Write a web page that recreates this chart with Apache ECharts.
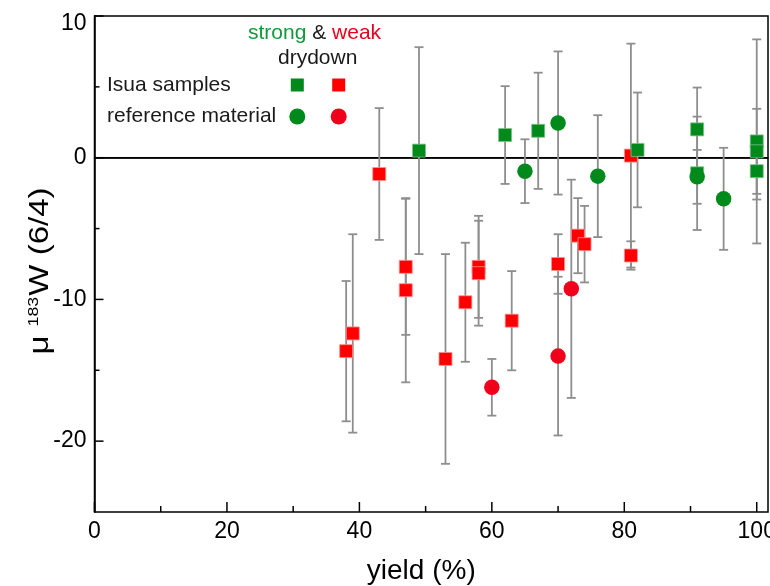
<!DOCTYPE html>
<html>
<head>
<meta charset="utf-8">
<script src="https://cdn.jsdelivr.net/npm/echarts@6/dist/echarts.min.js"></script>
<style>
html,body{margin:0;padding:0;background:#fff;}
#chart{width:770px;height:586px;}
</style>
</head>
<body>
<div id="chart"></div>
<script>
// ---- data (yield %, mu183W, error) ----
const isuaWeakX   = [38, 39, 43, 47, 47, 53, 56, 58, 58, 63, 70, 73, 74, 81, 81];
const isuaWeakY   = [-13.65, -12.4, -1.15, -7.7, -9.35, -14.2, -10.2, -7.7, -8.15, -11.5, -7.5, -5.5, -6.1, 0.15, -6.9];
const isuaWeakErr = [4.95, 7.0, 4.65, 4.8, 6.5, 7.4, 4.2, 3.6, 3.7, 3.5, 2.1, 2.65, 2.7, 7.9, 1.0];

const isuaStrongX   = [49, 62, 67, 82, 91, 91, 100, 100, 100];
const isuaStrongY   = [0.5, 1.6, 1.9, 0.55, 2.0, -1.1, 1.15, 0.45, -0.95];
const isuaStrongErr = [7.3, 3.45, 4.1, 4.05, 2.95, 4.0, 7.2, 3.0, 2.0];

const refWeakX   = [60, 70, 72];
const refWeakY   = [-16.2, -14.0, -9.25];
const refWeakErr = [2.0, 5.6, 7.7];

const refStrongX   = [65, 70, 76, 91, 95];
const refStrongY   = [-0.95, 2.45, -1.3, -1.35, -2.9];
const refStrongErr = [2.25, 5.05, 4.3, 1.9, 3.6];

const xMajorTicks = [0, 20, 40, 60, 80, 100];
const xMinorTicks = [10, 30, 50, 70, 90];
const yMajorTicks = [-20, -10, 0, 10];
const yMinorTicks = [-15, -5, 5];

const X_MIN = 0, X_MAX = 101.7, Y_MIN = -25, Y_MAX = 10;

const GREEN = '#008a1c';
const RED = '#ff0000';
const RED_C = '#f0001a';
const FONT = '"Liberation Sans", Arial, sans-serif';

function zip(xs, ys, es) { return xs.map((x, i) => [x, ys[i], es[i]]); }
const allErr = [].concat(
  zip(isuaWeakX, isuaWeakY, isuaWeakErr),
  zip(isuaStrongX, isuaStrongY, isuaStrongErr),
  zip(refWeakX, refWeakY, refWeakErr),
  zip(refStrongX, refStrongY, refStrongErr)
);

const chart = echarts.init(document.getElementById('chart'), null, {renderer: 'canvas'});

function errRender(params, api) {
  const x = api.value(0), y = api.value(1), e = api.value(2);
  const t = api.coord([x, y + e]), b = api.coord([x, y - e]);
  const st = {stroke: '#8e8e8e', lineWidth: 1.8};
  const cw = 4.5;
  return {type: 'group', children: [
    {type: 'line', shape: {x1: t[0], y1: t[1], x2: b[0], y2: b[1]}, style: st},
    {type: 'line', shape: {x1: t[0] - cw, y1: t[1], x2: t[0] + cw, y2: t[1]}, style: st},
    {type: 'line', shape: {x1: b[0] - cw, y1: b[1], x2: b[0] + cw, y2: b[1]}, style: st}
  ]};
}
function xTickRender(len) {
  return function (params, api) {
    const p = api.coord([api.value(0), Y_MIN]);
    return {type: 'line', shape: {x1: p[0], y1: p[1], x2: p[0], y2: p[1] - len}, style: {stroke: '#000', lineWidth: 1.5}};
  };
}
function yTickRender(len) {
  return function (params, api) {
    const p = api.coord([X_MIN, api.value(0)]);
    return {type: 'line', shape: {x1: p[0], y1: p[1], x2: p[0] + len, y2: p[1]}, style: {stroke: '#000', lineWidth: 1.5}};
  };
}

const option = {
  animation: false,
  backgroundColor: '#fff',
  textStyle: {fontFamily: FONT},
  grid: {left: 94.5, right: 2, top: 16, bottom: 74, show: true, borderColor: '#000', borderWidth: 1.5,
         backgroundColor: 'transparent', containLabel: false, outerBoundsMode: 'none'},
  xAxis: {
    type: 'value', min: X_MIN, max: X_MAX, interval: 10,
    axisLine: {show: true, lineStyle: {color: '#000', width: 1.5}},
    axisTick: {show: false},
    splitLine: {show: false},
    axisLabel: {
      color: '#000', fontSize: 23, fontFamily: FONT, margin: 8,
      formatter: v => (Math.abs(v % 20) < 1e-9 ? String(v) : '')
    },
    name: 'yield (%)', nameLocation: 'middle', nameGap: 45,
    nameTextStyle: {color: '#000', fontSize: 28, fontFamily: FONT, padding: [0, 20, 0, 0]}
  },
  yAxis: {
    type: 'value', min: Y_MIN, max: Y_MAX, interval: 5,
    axisLine: {show: true, lineStyle: {color: '#000', width: 1.5}},
    axisTick: {show: false},
    splitLine: {show: false},
    axisLabel: {
      color: '#000', fontSize: 23, fontFamily: FONT, margin: 8,
      formatter: v => (Math.abs(v % 10) < 1e-9 ? (v >= 10 ? '{top|' + v + '}' : String(v)) : ''),
      rich: {top: {fontSize: 23, fontFamily: FONT, color: '#000', padding: [16, 0, 0, 0]}}
    }
  },
  series: [
    {type: 'custom', name: 'xMajor', data: xMajorTicks.map(v => [v]), renderItem: xTickRender(10), z: 5, silent: true},
    {type: 'custom', name: 'xMinor', data: xMinorTicks.map(v => [v]), renderItem: xTickRender(6), z: 5, silent: true},
    {type: 'custom', name: 'yMajor', data: yMajorTicks.map(v => [v]), renderItem: yTickRender(9), z: 5, silent: true},
    {type: 'custom', name: 'yMinor', data: yMinorTicks.map(v => [v]), renderItem: yTickRender(5), z: 5, silent: true},
    {
      type: 'line', name: 'zero', data: [[X_MIN, 0], [X_MAX, 0]], symbol: 'none',
      lineStyle: {color: '#000', width: 1.5}, z: 1, silent: true
    },
    {type: 'custom', name: 'err', data: allErr, renderItem: errRender, z: 2, silent: true},
    {
      type: 'scatter', name: 'Isua weak', data: zip(isuaWeakX, isuaWeakY, isuaWeakErr),
      symbol: 'rect', symbolSize: 13, z: 3,
      itemStyle: {color: RED, borderColor: '#ff9090', borderWidth: 0.8, opacity: 1}
    },
    {
      type: 'scatter', name: 'Isua strong', data: zip(isuaStrongX, isuaStrongY, isuaStrongErr),
      symbol: 'rect', symbolSize: 13, z: 3,
      itemStyle: {color: GREEN, borderColor: '#80c08a', borderWidth: 0.8, opacity: 1}
    },
    {
      type: 'scatter', name: 'ref weak', data: zip(refWeakX, refWeakY, refWeakErr),
      symbol: 'circle', symbolSize: 15.5, z: 4,
      itemStyle: {color: RED_C, opacity: 1}
    },
    {
      type: 'scatter', name: 'ref strong', data: zip(refStrongX, refStrongY, refStrongErr),
      symbol: 'circle', symbolSize: 15.5, z: 4,
      itemStyle: {color: GREEN, opacity: 1}
    }
  ],
  graphic: [
    {type: 'text', x: 40, y: 271, rotation: Math.PI / 2, scaleX: 1.18, z: 10, style: {
      text: '{n|μ }{s|183}{n|W (6/4)}', align: 'center', verticalAlign: 'middle',
      rich: {
        n: {fontSize: 28, fontFamily: FONT, fill: '#000'},
        s: {fontSize: 15, fontFamily: FONT, fill: '#000', verticalAlign: 'top', padding: [0, 1, 10, 0]}
      }
    }},
    {type: 'text', left: 248, top: 23, z: 10, style: {
      text: '{g|strong}{k| & }{r|weak}', font: '21px ' + FONT,
      rich: {
        g: {fill: '#12993a', fontSize: 21, fontFamily: FONT},
        k: {fill: '#1a1a1a', fontSize: 21, fontFamily: FONT},
        r: {fill: '#e8001c', fontSize: 21, fontFamily: FONT}
      }
    }},
    {type: 'text', left: 278, top: 48, z: 10, style: {text: 'drydown', fill: '#1a1a1a', font: '21px ' + FONT}},
    {type: 'text', left: 107, top: 75, z: 10, style: {text: 'Isua samples', fill: '#1a1a1a', font: '21px ' + FONT}},
    {type: 'text', left: 107, top: 106, z: 10, style: {text: 'reference material', fill: '#1a1a1a', font: '21px ' + FONT}},
    {type: 'rect', shape: {x: 290.8, y: 78.5, width: 13, height: 13}, style: {fill: GREEN}, z: 10},
    {type: 'rect', shape: {x: 332.2, y: 78.5, width: 13, height: 13}, style: {fill: RED}, z: 10},
    {type: 'circle', shape: {cx: 297.3, cy: 116.5, r: 8}, style: {fill: GREEN}, z: 10},
    {type: 'circle', shape: {cx: 338.7, cy: 116.5, r: 8}, style: {fill: RED_C}, z: 10}
  ]
};
chart.setOption(option);
</script>
</body>
</html>
